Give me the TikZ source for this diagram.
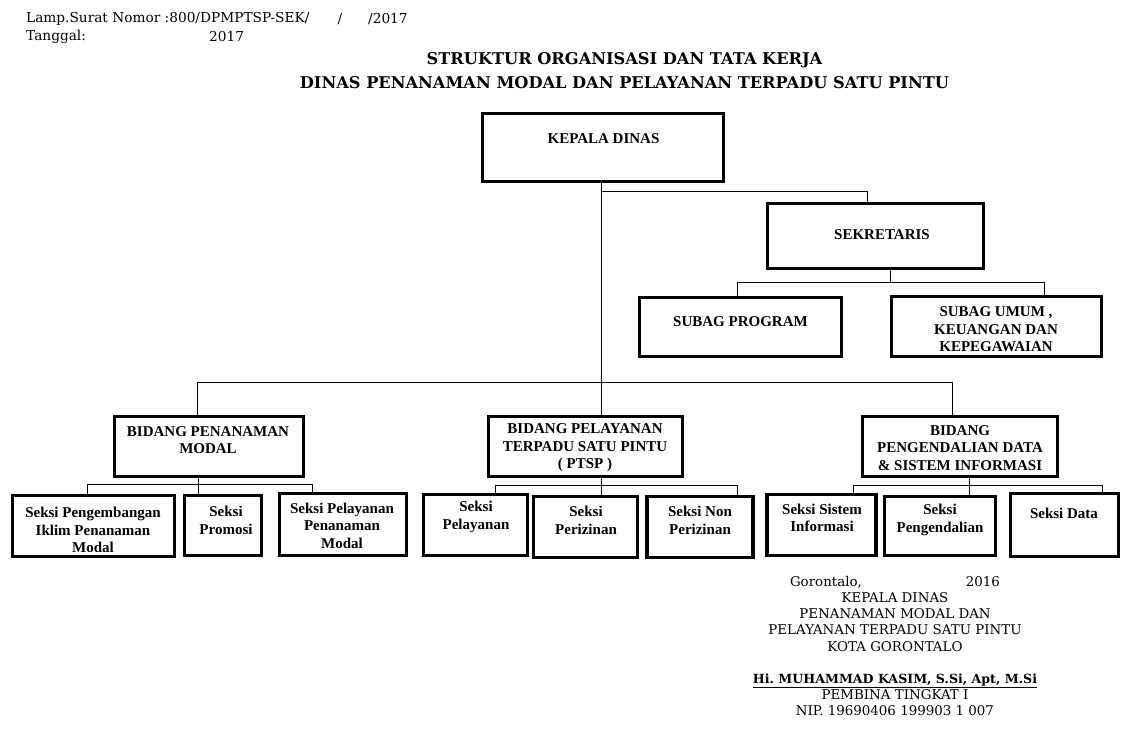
\documentclass[tikz,border=0pt]{standalone}
\usepackage{fontspec}
\setmainfont{Liberation Serif}
\newfontfamily\bkfont{DejaVu Serif}
\frenchspacing
\begin{document}
\begin{tikzpicture}[x=1pt,y=-1pt,
  box/.style={draw=black, line width=3.2pt, rectangle, inner sep=0pt},
  conn/.style={draw=black, line width=0.9pt},
  bt/.style={font=\bfseries\fontsize{15}{17.5}\selectfont, align=center, inner sep=0pt},
  st/.style={font=\bfseries\fontsize{15}{17.5}\selectfont, align=center, inner sep=0pt},
  hd/.style={font=\bkfont\fontsize{13.7}{18}\selectfont, inner sep=0pt},
  ttl/.style={font=\bkfont\bfseries\fontsize{16.2}{24}\selectfont, align=center, inner sep=0pt},
  sig/.style={font=\bkfont\fontsize{13.4}{16.2}\selectfont, align=center, inner sep=0pt}]
\useasboundingbox (0,0) rectangle (1139,746);

% header
\node[hd, anchor=west] (h1) at (26,19) {Lamp.Surat Nomor :800/DPMPTSP-SEK/};
\node[hd] (h2) at (340,19) {/};
\node[hd, anchor=west] (h3) at (368,19) {/2017};
\node[hd, anchor=west] (h4) at (26,37) {Tanggal:};
\node[hd, anchor=west] (h5) at (209,37) {2017};

% title
\node[ttl] (title) at (624.5,71) {STRUKTUR ORGANISASI DAN TATA KERJA\\DINAS PENANAMAN MODAL DAN PELAYANAN TERPADU SATU PINTU};

% boxes
\node[box, minimum width=241pt, minimum height=68pt] (kepala) at (603,147.5) {};
\node[box, minimum width=216pt, minimum height=65pt] (sekr) at (875.5,236) {};
\node[box, minimum width=202pt, minimum height=59pt] (subprog) at (740.5,327) {};
\node[box, minimum width=210pt, minimum height=60pt] (subumum) at (996.5,326.5) {};
\node[box, minimum width=189pt, minimum height=60pt] (bid1) at (209,446.5) {};
\node[box, minimum width=194pt, minimum height=60pt] (bid2) at (585.5,446.5) {};
\node[box, minimum width=195pt, minimum height=60pt] (bid3) at (960,446.5) {};
\node[box, minimum width=162pt, minimum height=61pt] (s1) at (93.5,526) {};
\node[box, minimum width=77pt, minimum height=60pt] (s2) at (223,525.5) {};
\node[box, minimum width=127pt, minimum height=62pt] (s3) at (343,524.5) {};
\node[box, minimum width=104pt, minimum height=61pt] (s4) at (475.5,525) {};
\node[box, minimum width=104pt, minimum height=61pt] (s5) at (585.5,527) {};
\node[box, minimum width=106pt, minimum height=61pt] (s6) at (700,527) {};
\node[box, minimum width=109pt, minimum height=61pt] (s7) at (821.5,525) {};
\node[box, minimum width=111pt, minimum height=59pt] (s8) at (940,526) {};
\node[box, minimum width=108pt, minimum height=63pt] (s9) at (1064.5,525) {};

% box texts
\node[bt] (tk) at (603.5,139) {KEPALA DINAS};
\node[bt] (ts) at (882,235) {SEKRETARIS};
\node[bt] (tsp) at (740.5,322) {SUBAG PROGRAM};
\node[bt] (tsu) at (996,329.5) {SUBAG UMUM ,\\KEUANGAN DAN\\KEPEGAWAIAN};
\node[bt] (tb1) at (208,440) {BIDANG PENANAMAN\\MODAL};
\node[bt] (tb2) at (585,448) {BIDANG PELAYANAN\\TERPADU SATU PINTU\\( PTSP )};
\node[bt] (tb3) at (960,448) {BIDANG\\PENGENDALIAN DATA\\\& SISTEM INFORMASI};
\node[st] (ts1) at (93,530) {Seksi Pengembangan\\Iklim Penanaman\\Modal};
\node[st] (ts2) at (226,520.5) {Seksi\\Promosi};
\node[st] (ts3) at (342,525.5) {Seksi Pelayanan\\Penanaman\\Modal};
\node[st] (ts4) at (476,517) {Seksi\\Pelayanan};
\node[st] (ts5) at (586,520.5) {Seksi\\Perizinan};
\node[st] (ts6) at (700,520.5) {Seksi Non\\Perizinan};
\node[st] (ts7) at (822,518) {Seksi Sistem\\Informasi};
\node[st] (ts8) at (940,520) {Seksi\\Pengendalian};
\node[st] (ts9) at (1064,513) {Seksi Data};

% connectors
\draw[conn] ([xshift=-2pt]kepala.south) -- ([xshift=-2pt]kepala.south |- bid2.north);
\draw[conn] ([xshift=-2pt]kepala.south) ++(0,8) -| ([xshift=-8.5pt]sekr.north);
\draw[conn] ([xshift=-12pt]bid1.north) -- ++(0,-32) -| ([xshift=-8pt]bid3.north);
\draw[conn] ([xshift=14.5pt]sekr.south) -- ++(0,13);
\draw[conn] ([xshift=-3.5pt]subprog.north) -- ++(0,-13) -| ([xshift=47.5pt]subumum.north);
\draw[conn] ([xshift=-6.5pt]s1.north) -- ++(0,-9) -| ([xshift=-31pt]s3.north);
\draw[conn] ([xshift=-11pt]bid1.south) -- ([xshift=-11pt]bid1.south |- s2.north);
\draw[conn] ([xshift=19.5pt]s4.north) -- ++(0,-7) -| ([xshift=37pt]s6.north);
\draw[conn] ([xshift=15.5pt]bid2.south) -- ([xshift=15.5pt]bid2.south |- s5.north);
\draw[conn] ([xshift=31.5pt]s7.north) -- ++(0,-7) -| ([xshift=37.5pt]s9.north);
\draw[conn] ([xshift=9pt]bid3.south) -- ([xshift=9pt]bid3.south |- s8.north);

% signature
\node[sig] (sign) at (895,646) {Gorontalo,\hspace{104pt}2016\\KEPALA DINAS\\PENANAMAN MODAL DAN\\PELAYANAN TERPADU SATU PINTU\\KOTA GORONTALO\\[16.2pt]{\fontsize{12.6}{16.2}\selectfont\underline{\textbf{Hi. MUHAMMAD KASIM, S.Si, Apt, M.Si}}}\\PEMBINA TINGKAT I\\NIP. 19690406 199903 1 007};
\end{tikzpicture}
\end{document}
